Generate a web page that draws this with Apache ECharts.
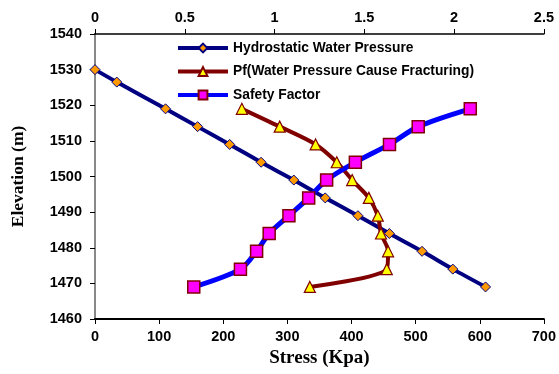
<!DOCTYPE html>
<html>
<head>
<meta charset="utf-8">
<script src="https://cdn.jsdelivr.net/npm/echarts@6/dist/echarts.min.js"></script>
<style>
  html, body { margin: 0; padding: 0; background: #fff; }
  #chart { width: 559px; height: 374px; }
</style>
</head>
<body>
<div id="chart"></div>
<script>
// hydrostatic pressure, bottom axis (Kpa)
const hydroElev = [1530, 1526.5, 1519, 1514, 1509, 1504, 1499, 1494, 1489, 1484, 1479, 1474, 1469];
const hydroStress = [0, 34, 110, 160, 210, 259, 310, 359, 410, 459, 510, 558, 609];

// fracturing pressure, bottom axis (Kpa)
const pfElev = [1519, 1514, 1509, 1504, 1499, 1494, 1489, 1484, 1479, 1474, 1469];
const pfStress = [229, 288, 344, 377, 401, 427, 441, 446, 457, 455, 335];

// safety factor, top axis
const sfElev = [1519, 1514, 1509, 1504, 1499, 1494, 1489, 1484, 1479, 1474, 1469];
const sfValue = [2.09, 1.80, 1.64, 1.45, 1.29, 1.19, 1.08, 0.97, 0.90, 0.81, 0.55];

const seriesNames = [
  "Hydrostatic Water Pressure",
  "Pf(Water Pressure Cause Fracturing)",
  "Safety Factor"
];

const chart = echarts.init(document.getElementById("chart"));

const labelFont = {
  fontFamily: "Arial",
  fontWeight: "bold",
  fontSize: 14.5,
  color: "#000"
};

const option = {
  animation: false,
  backgroundColor: "#fff",
  grid: { left: 95, right: 14, top: 34, bottom: 55 },
  legend: {
    data: seriesNames,
    orient: "vertical",
    left: 176,
    top: 41,
    padding: 0,
    itemWidth: 50,
    itemHeight: 11,
    itemGap: 9.5,
    lineStyle: { width: 4 },
    textStyle: {
      fontFamily: "Arial",
      fontWeight: "bold",
      fontSize: 13.8,
      color: "#000"
    }
  },
  xAxis: [
    {
      type: "value",
      position: "bottom",
      min: 0,
      max: 700,
      interval: 100,
      name: "Stress (Kpa)",
      nameLocation: "middle",
      nameGap: 29,
      nameTextStyle: {
        fontFamily: "Times New Roman",
        fontWeight: "bold",
        fontSize: 19,
        color: "#000"
      },
      axisLine: { show: true, lineStyle: { color: "#000", width: 2 } },
      axisTick: { show: true, inside: false, length: 5, lineStyle: { color: "#000" } },
      axisLabel: Object.assign({ margin: 10, formatter: (v) => String(v) }, labelFont),
      splitLine: { show: false }
    },
    {
      type: "value",
      position: "top",
      min: 0,
      max: 2.5,
      interval: 0.5,
      axisLine: { show: true, lineStyle: { color: "#000", width: 1.5 } },
      axisTick: { show: true, inside: false, length: 5, lineStyle: { color: "#000" } },
      axisLabel: Object.assign({ margin: 9, formatter: (v) => String(v) }, labelFont),
      splitLine: { show: false }
    }
  ],
  yAxis: [
    {
      type: "value",
      position: "left",
      min: 1460,
      max: 1540,
      interval: 10,
      name: "Elevation (m)",
      nameLocation: "middle",
      nameGap: 68,
      nameRotate: 90,
      nameTextStyle: {
        fontFamily: "Times New Roman",
        fontWeight: "bold",
        fontSize: 17.5,
        color: "#000"
      },
      axisLine: { show: true, lineStyle: { color: "#000", width: 2 } },
      axisTick: { show: true, inside: false, length: 5, lineStyle: { color: "#000" } },
      axisLabel: Object.assign({ margin: 13, formatter: (v) => String(v) }, labelFont),
      splitLine: { show: false }
    },
    {
      type: "value",
      position: "right",
      min: 1460,
      max: 1540,
      interval: 10,
      axisLine: { show: true, lineStyle: { color: "#888", width: 2 } },
      axisTick: { show: false },
      axisLabel: { show: false },
      splitLine: { show: false }
    }
  ],
  series: [
    {
      name: seriesNames[0],
      type: "line",
      xAxisIndex: 0,
      yAxisIndex: 0,
      data: hydroStress.map((s, i) => [s, hydroElev[i]]),
      smooth: 0.3,
      symbol: "diamond",
      symbolSize: 10,
      lineStyle: { color: "#000080", width: 4 },
      itemStyle: { color: "#FF9900", borderColor: "#000080", borderWidth: 1 }
    },
    {
      name: seriesNames[1],
      type: "line",
      xAxisIndex: 0,
      yAxisIndex: 0,
      data: pfStress.map((s, i) => [s, pfElev[i]]),
      smooth: 0.3,
      symbol: "triangle",
      symbolSize: 11,
      lineStyle: { color: "#800000", width: 4 },
      itemStyle: { color: "#FFFF00", borderColor: "#800000", borderWidth: 1.2 }
    },
    {
      name: seriesNames[2],
      type: "line",
      xAxisIndex: 1,
      yAxisIndex: 0,
      data: sfValue.map((v, i) => [v, sfElev[i]]),
      smooth: 0.3,
      symbol: "rect",
      symbolSize: 12,
      lineStyle: { color: "#0000FF", width: 5 },
      itemStyle: { color: "#FF00FF", borderColor: "#800000", borderWidth: 1.5 }
    }
  ]
};

chart.setOption(option);
</script>
</body>
</html>
